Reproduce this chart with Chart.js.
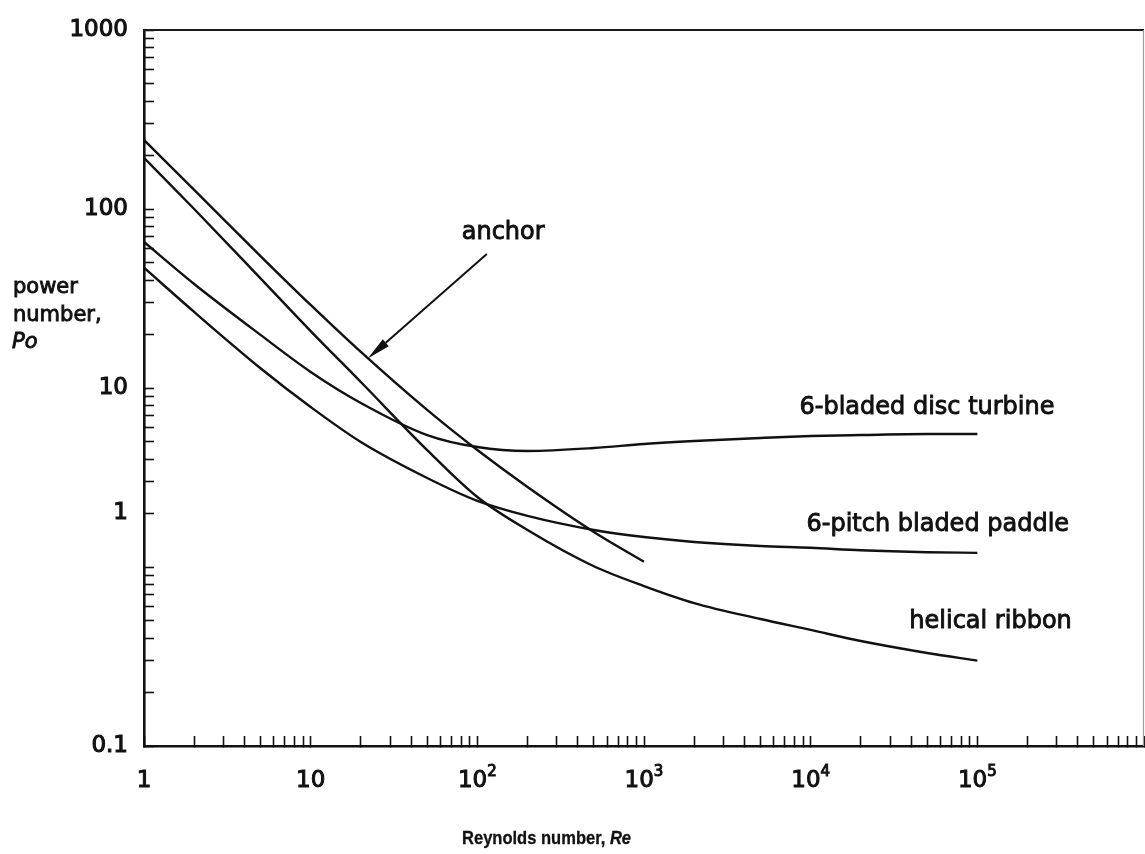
<!DOCTYPE html>
<html>
<head>
<meta charset="utf-8">
<title>Power number vs Reynolds number</title>
<script src="https://cdn.jsdelivr.net/npm/chart.js@4.4.1/dist/chart.umd.min.js"></script>
<style>
  html, body { margin: 0; padding: 0; background: #ffffff; }
  canvas { display: block; }
</style>
</head>
<body>
<canvas id="chart" width="1145" height="854"></canvas>
<script>
// Reynolds numbers at which each curve is sampled
const reynolds = [1, 2, 5, 10, 20, 50, 100, 200, 500, 1000, 2000, 5000, 1e4, 2e4, 5e4, 1e5];
const reynoldsAnchor = [1, 2, 5, 10, 20, 50, 100, 200, 500, 1000];

// Power number Po for each impeller type
const poAnchor        = [243, 128, 54.6, 29.1, 15.9, 7.54, 4.5, 2.80, 1.57, 1.07];
const poHelicalRibbon = [193, 100, 41, 20.8, 10.8, 4.5, 2.46, 1.61, 1.01, 0.783, 0.629, 0.512, 0.445, 0.386, 0.331, 0.30];
const poDiscTurbine   = [65.4, 38.1, 19.8, 12.3, 8.25, 5.46, 4.68, 4.45, 4.62, 4.87, 5.06, 5.26, 5.39, 5.46, 5.53, 5.53];
const poPitchedPaddle = [47, 26.6, 12.9, 7.83, 4.99, 3.14, 2.34, 1.93, 1.61, 1.47, 1.38, 1.31, 1.28, 1.24, 1.21, 1.2];

// Printed tick labels: x labels as base + exponent, y labels with the tick value they sit on
const xLabelValues = [1, 10, 100, 1000, 10000, 100000];
const xLabelBase   = ['1', '10', '10', '10', '10', '10'];
const xLabelExp    = ['', '', '2', '3', '4', '5'];
const yLabelValues = [0.1, 2, 10, 100, 1000];
const yLabelText   = ['0.1', '1', '10', '100', '1000'];

// Curve names
const curveNames = ['anchor', 'helical ribbon', '6-bladed disc turbine', '6-pitch bladed paddle'];

// Minor + major tick positions: 1..9 times each power of ten
function decadeTicks(fromExp, toExp) {
  const out = [];
  for (let k = fromExp; k < toExp; k++) {
    for (let m = 1; m <= 9; m++) out.push(Number((m * Math.pow(10, k)).toPrecision(6)));
  }
  out.push(Number(Math.pow(10, toExp).toPrecision(6)));
  return out;
}
const xTickValues = decadeTicks(0, 6);
const yTickValues = decadeTicks(-1, 3);

function labelFor(value, values, texts) {
  for (let i = 0; i < values.length; i++) {
    if (Math.abs(value - values[i]) < 1e-9 * values[i]) return texts[i];
  }
  return '';
}

function series(xs, ys) { return xs.map((x, i) => ({ x: x, y: ys[i] })); }

const INK = '#111111';
const FONT = '"DejaVu Sans", "Liberation Sans", Arial, sans-serif';

// Draws a sequence of text runs (mixed upright / italic / raised) from a start point
function drawRuns(ctx, x, y, runs, opts) {
  opts = opts || {};
  const stroke = opts.stroke === undefined ? 0.9 : opts.stroke;
  const sx = opts.scaleX || 1;
  ctx.save();
  ctx.translate(x, y);
  ctx.scale(sx, 1);
  ctx.textAlign = 'left';
  ctx.textBaseline = 'alphabetic';
  ctx.fillStyle = INK;
  ctx.strokeStyle = INK;
  ctx.lineWidth = stroke;
  let cx = 0;
  for (const r of runs) {
    ctx.font = r.font;
    const dy = r.rise ? -r.rise : 0;
    ctx.fillText(r.text, cx, dy);
    if (stroke > 0) ctx.strokeText(r.text, cx, dy);
    cx += ctx.measureText(r.text).width;
  }
  ctx.restore();
}

function runsWidth(ctx, runs) {
  let w = 0;
  ctx.save();
  for (const r of runs) { ctx.font = r.font; w += ctx.measureText(r.text).width; }
  ctx.restore();
  return w;
}

// Frame, tick labels on x, axis titles, curve names and the anchor pointer
const annotationPlugin = {
  id: 'annotations',
  afterDraw(chart) {
    const ctx = chart.ctx;
    const area = chart.chartArea;
    const xs = chart.scales.x;
    const ys = chart.scales.y;
    const px = v => xs.getPixelForValue(v);
    const py = v => ys.getPixelForValue(v);

    ctx.save();
    // top edge of the frame
    ctx.strokeStyle = '#1a1a1a';
    ctx.lineWidth = 2;
    ctx.beginPath();
    ctx.moveTo(area.left, area.top);
    ctx.lineTo(area.right, area.top);
    ctx.stroke();
    // right edge of the frame
    ctx.strokeStyle = '#9a9a9a';
    ctx.lineWidth = 1.2;
    ctx.beginPath();
    ctx.moveTo(area.right - 0.5, area.top);
    ctx.lineTo(area.right - 0.5, area.bottom);
    ctx.stroke();

    // pointer from the "anchor" caption to its curve
    const tail = { x: px(114), y: py(56) };
    const tip = { x: px(22), y: py(14.6) };
    const ang = Math.atan2(tip.y - tail.y, tip.x - tail.x);
    const headLen = 24, headHalf = 4.5;
    const bx = tip.x - headLen * Math.cos(ang), by = tip.y - headLen * Math.sin(ang);
    ctx.strokeStyle = INK;
    ctx.fillStyle = INK;
    ctx.lineWidth = 2;
    ctx.beginPath();
    ctx.moveTo(tail.x, tail.y);
    ctx.lineTo(bx, by);
    ctx.stroke();
    ctx.beginPath();
    ctx.moveTo(tip.x, tip.y);
    ctx.lineTo(bx + headHalf * Math.sin(ang), by - headHalf * Math.cos(ang));
    ctx.lineTo(bx - headHalf * Math.sin(ang), by + headHalf * Math.cos(ang));
    ctx.closePath();
    ctx.fill();
    ctx.restore();

    // x tick labels, powers of ten with raised exponents
    const baseFont = '23px ' + FONT;
    const expFont = '15px ' + FONT;
    const labelBaseline = area.bottom + 41;
    xLabelValues.forEach((v, i) => {
      const runs = [{ text: xLabelBase[i], font: baseFont }];
      if (xLabelExp[i]) runs.push({ text: xLabelExp[i], font: expFont, rise: 11 });
      const w = runsWidth(ctx, runs);
      drawRuns(ctx, px(v) - w / 2, labelBaseline, runs, { stroke: 1.0 });
    });

    // curve names
    const labelFont = '24px ' + FONT;
    drawRuns(ctx, px(80.6), py(68), [{ text: curveNames[0], font: labelFont }]);
    drawRuns(ctx, px(8570), py(7.16), [{ text: curveNames[2], font: labelFont }]);
    drawRuns(ctx, px(9440), py(1.59), [{ text: curveNames[3], font: labelFont }]);
    drawRuns(ctx, px(39100), py(0.456), [{ text: curveNames[1], font: labelFont }]);

    // y-axis title
    const yt = '21px ' + FONT;
    drawRuns(ctx, 13, 293, [{ text: 'power', font: yt }]);
    drawRuns(ctx, 13, 321, [{ text: 'number,', font: yt }]);
    drawRuns(ctx, 12, 348, [{ text: 'Po', font: 'italic ' + yt }]);

    // x-axis title
    const xt = 'bold 19px "Liberation Sans", Arial, sans-serif';
    drawRuns(ctx, 462, 844, [
      { text: 'Reynolds number, ', font: xt },
      { text: 'Re', font: 'italic ' + xt }
    ], { stroke: 0.3, scaleX: 0.87 });
  }
};

const lineStyle = {
  borderColor: INK,
  borderWidth: 2.4,
  pointRadius: 0,
  fill: false,
  cubicInterpolationMode: 'monotone'
};

function noScalePadding(scale) {
  scale.paddingLeft = 0;
  scale.paddingRight = 0;
  scale.paddingTop = 0;
  scale.paddingBottom = 0;
}

new Chart(document.getElementById('chart'), {
  type: 'line',
  data: {
    datasets: [
      Object.assign({ label: curveNames[0], data: series(reynoldsAnchor, poAnchor) }, lineStyle),
      Object.assign({ label: curveNames[1], data: series(reynolds, poHelicalRibbon) }, lineStyle),
      Object.assign({ label: curveNames[2], data: series(reynolds, poDiscTurbine) }, lineStyle),
      Object.assign({ label: curveNames[3], data: series(reynolds, poPitchedPaddle) }, lineStyle)
    ]
  },
  options: {
    responsive: false,
    animation: false,
    devicePixelRatio: 1,
    layout: { padding: { top: 30, right: 1, left: 0, bottom: 0 } },
    plugins: { legend: { display: false }, tooltip: { enabled: false } },
    scales: {
      x: {
        type: 'logarithmic',
        position: 'bottom',
        min: 1,
        max: 1e6,
        afterFit(scale) { scale.height = 108; noScalePadding(scale); },
        afterBuildTicks(scale) { scale.ticks = xTickValues.map(v => ({ value: v })); },
        ticks: {
          autoSkip: false,
          maxRotation: 0,
          minRotation: 0,
          callback: () => ''
        },
        grid: { drawOnChartArea: false, drawTicks: true, tickLength: -10, tickColor: INK, tickWidth: 1.6 },
        border: { display: true, color: INK, width: 2.6 }
      },
      y: {
        type: 'logarithmic',
        position: 'left',
        min: 0.1,
        max: 1000,
        afterFit(scale) { scale.width = 144; noScalePadding(scale); },
        afterBuildTicks(scale) { scale.ticks = yTickValues.map(v => ({ value: v })); },
        ticks: {
          autoSkip: false,
          padding: 26,
          color: INK,
          textStrokeColor: INK,
          textStrokeWidth: 1.1,
          font: { family: FONT, size: 23 },
          callback: v => labelFor(v, yLabelValues, yLabelText)
        },
        grid: { drawOnChartArea: false, drawTicks: true, tickLength: -10, tickColor: INK, tickWidth: 1.6 },
        border: { display: true, color: INK, width: 2.6 }
      }
    }
  },
  plugins: [annotationPlugin]
});
</script>
</body>
</html>
